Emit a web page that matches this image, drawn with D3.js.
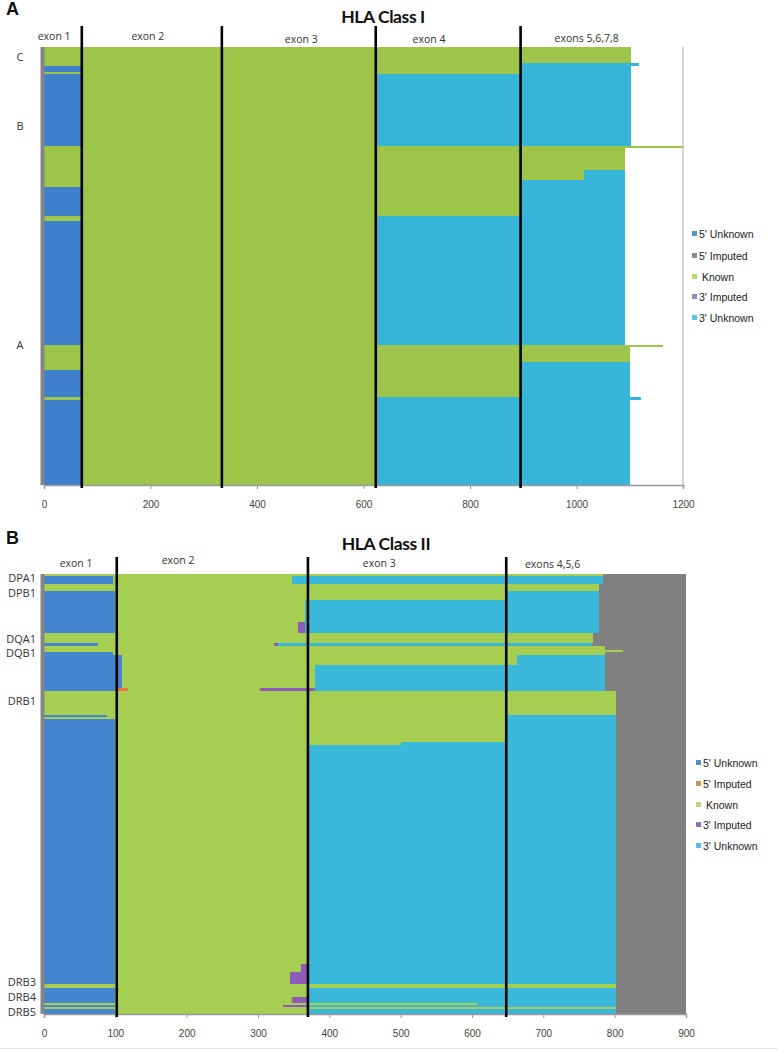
<!DOCTYPE html>
<html><head><meta charset="utf-8">
<script src="https://cdn.jsdelivr.net/npm/d3@7"></script>
<style>body{margin:0;background:#fff} svg{display:block}</style>
</head><body><svg id="c" width="777" height="1050"></svg>
<script>
// ---------- Panel A: HLA Class I ----------
const titleA = "HLA Class I";
const lociA = ["C", "B", "A"];
const lociRowA = [10, 79, 298];
const exonLabelsA = ["exon 1", "exon 2", "exon 3", "exon 4", "exons 5,6,7,8"];
const exonLabelPosA = [19, 195, 483, 723, 1019];
const exonBoundsA = [71, 334, 623, 895];
const ticksA = [0, 200, 400, 600, 800, 1000, 1200];
const groupSizeA = [16, 3, 6, 2, 72, 2, 22, 10, 7, 29, 5, 124, 2, 15, 8, 27, 3, 85];
const unknown5A  = [0, 0, 71, 0, 71, 0, 0, 0, 0, 71, 0, 71, 0, 0, 0, 71, 0, 71];
const imputed5A  = [0, 0, 0, 0, 0, 0, 0, 0, 0, 0, 0, 0, 0, 0, 0, 0, 0, 0];
const knownA     = [1103, 895, 824, 895, 552, 1200, 1092, 1014, 895, 824, 623, 552, 1162, 1101, 895, 824, 623, 552];
const imputed3A  = [0, 0, 0, 0, 0, 0, 0, 0, 0, 0, 0, 0, 0, 0, 0, 0, 0, 0];
const unknown3A  = [0, 222, 208, 208, 480, 0, 0, 78, 197, 197, 469, 469, 0, 0, 206, 206, 499, 478];

// ---------- Panel B: HLA Class II ----------
const titleB = "HLA Class II";
const lociB = ["DPA1", "DPB1", "DQA1", "DQB1", "DRB1", "DRB3", "DRB4", "DRB5"];
const lociRowB = [4, 19, 65, 79, 127, 408, 423, 438];
const exonLabelsB = ["exon 1", "exon 2", "exon 3", "exons 4,5,6"];
const exonLabelPosB = [45, 188, 470, 713];
const exonBoundsB = [102, 370, 648];
const ticksB = [0, 100, 200, 300, 400, 500, 600, 700, 800, 900];
const groupSizeB = [2, 8, 7, 9, 22, 11, 10, 3, 4, 2, 3, 10, 23, 3, 24, 2, 2, 23, 3, 219, 8, 12, 4, 9, 6, 2, 2, 2, 5];
const unknown5B  = [0, 97, 0, 100, 100, 100, 0, 75, 0, 0, 97, 109, 109, 100, 0, 88, 0, 100, 100, 100, 100, 100, 0, 100, 100, 0, 100, 0, 100];
const imputed5B  = [0, 0, 0, 0, 0, 0, 0, 0, 0, 0, 0, 0, 0, 18, 0, 0, 0, 0, 0, 0, 0, 0, 0, 0, 0, 0, 0, 0, 0];
const knownB     = [784, 250, 778, 548, 266, 256, 770, 247, 786, 811, 689, 554, 271, 185, 802, 559, 647, 547, 400, 270, 260, 245, 802, 270, 247, 608, 235, 802, 270];
const imputed3B  = [0, 0, 0, 0, 0, 10, 0, 6, 0, 0, 0, 0, 0, 77, 0, 0, 0, 0, 0, 0, 10, 25, 0, 0, 23, 0, 35, 0, 0];
const unknown3B  = [0, 437, 0, 130, 412, 412, 0, 440, 0, 0, 0, 123, 406, 406, 0, 155, 155, 155, 302, 432, 432, 432, 0, 432, 432, 194, 432, 0, 432];

const legendLabels = ["5' Unknown", "5' Imputed", " Known", "3' Imputed", "3' Unknown"];
const keys = ["u5", "i5", "known", "i3", "u3"];

const svg = d3.select("#c");
const FONT = "'Open Sans', sans-serif";
const ARIAL = "'Liberation Sans', Arial, sans-serif";

function drawPanel(cfg) {
  const n = cfg.size.length;
  const table = d3.range(n).map(i => ({
    size: cfg.size[i], u5: cfg.u5[i], i5: cfg.i5[i], known: cfg.known[i], i3: cfg.i3[i], u3: cfg.u3[i]
  }));
  const starts = [0, ...d3.cumsum(cfg.size)];
  const total = starts[n];
  table.forEach((d, i) => { d.r0 = starts[i]; d.r1 = starts[i + 1]; });

  const x = d3.scaleLinear().domain([0, cfg.xmax]).range([cfg.x0, cfg.x1]);
  const y = d3.scaleLinear().domain([0, total]).range([cfg.y0, cfg.y1]);
  const g = svg.append("g");

  if (cfg.bg) {
    g.append("rect").attr("x", x(0)).attr("y", y(0))
      .attr("width", x(cfg.xmax) - x(0)).attr("height", y(total) - y(0)).attr("fill", cfg.bg);
  }

  const stack = d3.stack().keys(keys)(table);
  g.selectAll("g.series").data(stack).join("g").attr("class", "series")
    .attr("fill", s => cfg.colors[keys.indexOf(s.key)])
    .selectAll("rect").data(s => s.filter(d => d[1] > d[0])).join("rect")
    .attr("x", d => x(d[0]))
    .attr("width", d => x(d[1]) - x(d[0]))
    .attr("y", d => y(d.data.r0))
    .attr("height", d => y(d.data.r1) - y(d.data.r0) + 0.3)
    .attr("shape-rendering", "crispEdges");

  // left gray strip (value axis)
  g.append("rect").attr("x", x(0) - 3.5).attr("y", y(0)).attr("width", 4)
    .attr("height", y(total) - y(0)).attr("fill", "#858585");

  if (cfg.rightLine) {
    g.append("line").attr("x1", x(cfg.xmax)).attr("x2", x(cfg.xmax))
      .attr("y1", y(0)).attr("y2", y(total)).attr("stroke", "#aaa").attr("stroke-width", 1);
  }

  // x axis
  const ax = g.append("g").attr("transform", `translate(0,${y(total)})`)
    .call(d3.axisBottom(x).tickValues(cfg.ticks).tickSize(4).tickPadding(12).tickFormat(d3.format("d")));
  ax.select(".domain").attr("stroke", "#999").attr("stroke-width", 1.5);
  ax.selectAll(".tick line").attr("stroke", "#999");
  ax.selectAll("text").attr("font-family", ARIAL).attr("font-size", 10).attr("fill", "#444");

  // exon boundaries
  g.selectAll("line.exon").data(cfg.exonBounds).join("line").attr("class", "exon")
    .attr("x1", d => x(d)).attr("x2", d => x(d))
    .attr("y1", cfg.lineTop).attr("y2", y(total) + 3)
    .attr("stroke", "#000").attr("stroke-width", 2.6);

  g.selectAll("text.exon").data(cfg.exonLabels).join("text").attr("class", "exon")
    .attr("x", (d, i) => x(cfg.exonLabelPos[i]))
    .attr("y", (d, i) => cfg.exonLabelY[i])
    .attr("text-anchor", "middle").attr("font-family", FONT).attr("font-size", 10.5)
    .attr("fill", "#333").text(d => d);

  // row labels
  g.selectAll("text.loc").data(cfg.loci).join("text").attr("class", "loc")
    .attr("x", cfg.locX).attr("y", (d, i) => y(cfg.lociRow[i]))
    .attr("dy", "0.35em").attr("text-anchor", cfg.locAnchor)
    .attr("font-family", FONT).attr("font-size", 11).attr("fill", "#333").text(d => d);

  // title and panel letter
  g.append("text").attr("x", cfg.titleX).attr("y", cfg.titleY).attr("text-anchor", "middle")
    .attr("font-family", "Lato, sans-serif").attr("font-weight", "bold").attr("font-size", 17.5)
    .attr("letter-spacing", "-0.4px").attr("fill", "#111").text(cfg.title);
  g.append("text").attr("x", 6).attr("y", cfg.letterY)
    .attr("font-family", ARIAL).attr("font-weight", "bold").attr("font-size", 18)
    .attr("fill", "#111").text(cfg.letter);

  // legend
  const lg = g.append("g");
  cfg.legendY.forEach((ly, i) => {
    lg.append("rect").attr("x", cfg.legendX).attr("y", ly - 3).attr("width", 5).attr("height", 5)
      .attr("fill", cfg.legendColors[i]);
    lg.append("text").attr("x", cfg.legendX + 7).attr("y", ly).attr("dy", "0.35em")
      .attr("font-family", ARIAL).attr("font-size", 10.5).attr("fill", "#222")
      .style("white-space", "pre").text(legendLabels[i]);
  });
}

drawPanel({
  size: groupSizeA, u5: unknown5A, i5: imputed5A, known: knownA, i3: imputed3A, u3: unknown3A,
  xmax: 1200, x0: 44, x1: 683, y0: 47, y1: 485, lineTop: 26,
  colors: ["#3d7fca", "#808080", "#9dc54a", "#8a5cb6", "#36b5d9"],
  legendColors: ["#4f98c9", "#8c8c8c", "#bcd879", "#8e8cc3", "#5cc4e8"],
  legendX: 692, legendY: [234, 256, 277, 297, 318],
  ticks: ticksA, exonBounds: exonBoundsA, exonLabels: exonLabelsA, exonLabelPos: exonLabelPosA,
  exonLabelY: [40, 40, 43, 43, 42],
  loci: lociA, lociRow: lociRowA, locX: 20, locAnchor: "middle",
  title: titleA, titleX: 383, titleY: 23, letter: "A", letterY: 15, rightLine: true
});

drawPanel({
  size: groupSizeB, u5: unknown5B, i5: imputed5B, known: knownB, i3: imputed3B, u3: unknown3B,
  xmax: 900, x0: 44, x1: 686, y0: 574, y1: 1014, lineTop: 557, bg: "#808080",
  colors: ["#4485cf", "#e8773a", "#a6cf51", "#8d5bb8", "#39b8dc"],
  legendColors: ["#4f8fc6", "#c99557", "#bcd879", "#9273b8", "#56bfe3"],
  legendX: 696, legendY: [763, 784, 805, 825, 846],
  ticks: ticksB, exonBounds: exonBoundsB, exonLabels: exonLabelsB, exonLabelPos: exonLabelPosB,
  exonLabelY: [567, 564, 567, 568],
  loci: lociB, lociRow: lociRowB, locX: 36, locAnchor: "end",
  title: titleB, titleX: 386, titleY: 550, letter: "B", letterY: 544, rightLine: false
});

svg.append("line").attr("x1", 0).attr("x2", 777).attr("y1", 1048.5).attr("y2", 1048.5)
  .attr("stroke", "#e4e4e4");
</script></body></html>
